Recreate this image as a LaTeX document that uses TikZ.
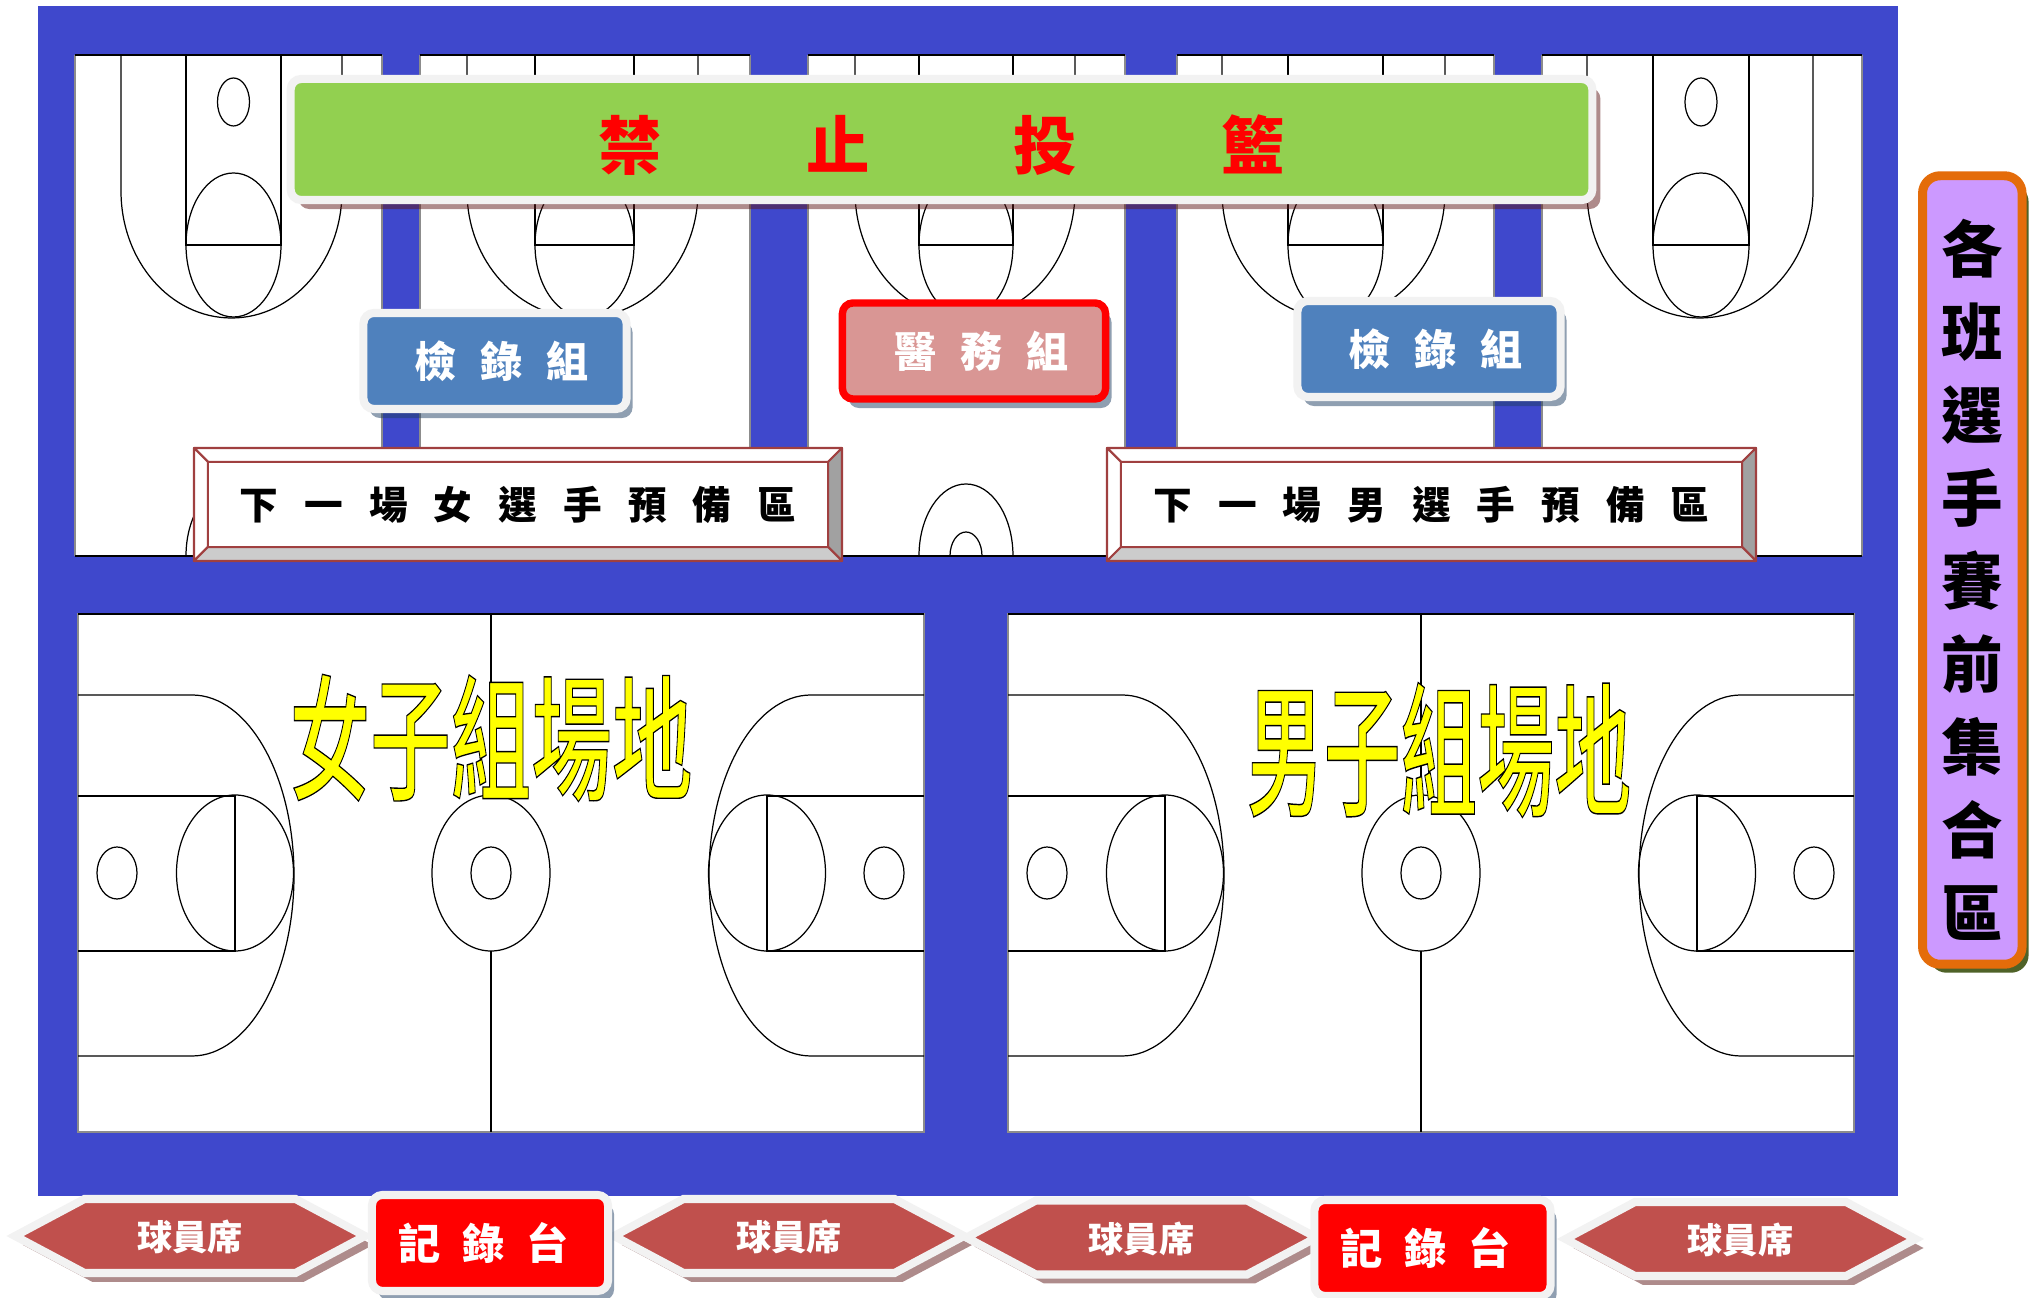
\documentclass[tikz,border=0pt]{standalone}
\usepackage{fontspec}
\usepackage{tikz}
\usetikzlibrary{shadows,positioning,calc}
\newfontfamily\cjk{Noto Sans CJK TC}
\newfontfamily\cjkoutline[FakeBold=1.0]{Noto Sans CJK TC Medium}
\newcommand{\setcjk}[2]{\cjk\bfseries\fontsize{#1}{#1}\selectfont\spaceskip=#2\relax}
\definecolor{courtblue}{HTML}{3F48CC}
\definecolor{bannergreen}{HTML}{92D050}
\definecolor{paleborder}{HTML}{F2F2F2}
\definecolor{teamblue}{HTML}{4F81BD}
\definecolor{medicpink}{HTML}{D99694}
\definecolor{benchred}{HTML}{C0504D}
\definecolor{bevelline}{HTML}{A04040}
\definecolor{lilacfill}{HTML}{CC99FF}
\definecolor{orangeline}{HTML}{E46C0A}
\definecolor{oliveshade}{HTML}{4F6228}
\tikzstyle{courtline}=[draw=black, line width=0.35pt]
\tikzstyle{courtedge}=[draw=black!45, line width=0.3pt]
\tikzstyle{redshadow}=[drop shadow={shadow xshift=0.08cm, shadow yshift=-0.09cm, fill={rgb,255:red,94;green,24;blue,24}, opacity=0.5}]
\tikzstyle{blueshadow}=[drop shadow={shadow xshift=0.06cm, shadow yshift=-0.09cm, fill={rgb,255:red,33;green,64;blue,100}, opacity=0.5}]
\tikzstyle{oliveshadow}=[drop shadow={shadow xshift=0.065cm, shadow yshift=-0.085cm, fill=oliveshade, opacity=1}]
\tikzstyle{tagbox}=[rectangle, rounded corners=3pt, line width=2.3pt, draw=paleborder,
                    inner sep=0pt, outer sep=0pt, text=white]
\tikzstyle{benchhex}=[draw=paleborder, fill=benchred, line width=2.3pt, miter limit=10, redshadow]
\tikzstyle{benchtext}=[inner sep=0pt, text=white, font=\setcjk{10}{0pt}]
\tikzstyle{deskbox}=[tagbox, fill=red, minimum width=2.36cm, minimum height=0.96cm,
                     blueshadow, font=\setcjk{12}{6.2pt}]
\tikzstyle{checkbox}=[tagbox, fill=teamblue, minimum width=2.63cm, minimum height=0.96cm,
                      blueshadow, font=\setcjk{12}{6.8pt}]
\tikzstyle{waittext}=[inner sep=0pt, font=\setcjk{11}{7.4pt}]
\tikzstyle{bevelside}=[draw=bevelline, line width=0.6pt, line join=round]

% half court seen from above, hoop towards the top of the page
\newcommand{\halfcourt}[6]{
    \fill[white] (#1,55) rectangle (#2,556);
    \draw[courtedge] (#1,55) -- (#1,556) (#2,55) -- (#2,556);
    \draw[courtline, line width=0.6pt] (#1,55) -- (#2,55) (#1,556) -- (#2,556);
    \draw[courtline] (#3,55) -- (#3,191) arc[start angle=180, end angle=0, x radius={(#6-#3)/2}, y radius=127] -- (#6,55);
    \draw[courtline] (#4,55) -- (#4,245) -- (#5,245) -- (#5,55);
    \draw[courtline] ({(#4+#5)/2},245) ellipse [x radius={(#5-#4)/2}, y radius=72];
    \draw[courtline] ({(#4+#5)/2},102) ellipse [x radius=16, y radius=24];
}
% whole court, #1 is the shift to the right
\newcommand{\fullcourt}[1]{
    \begin{scope}[xshift=#1*0.01cm]
    \fill[white] (78,614) rectangle (924,1132);
    \draw[courtedge] (78,614) rectangle (924,1132);
    \draw[courtline, line width=0.6pt] (78,614) -- (924,614);
    \draw[courtline] (491,614) -- (491,1132);
    \fill[white] (491,873) ellipse [x radius=59, y radius=78];
    \draw[courtline] (491,873) ellipse [x radius=59, y radius=78];
    \draw[courtline] (491,873) ellipse [x radius=20, y radius=26];
    % left end
    \draw[courtline] (78,695) -- (192,695) arc[start angle=90, end angle=-90, x radius=102, y radius=-180.5] -- (78,1056);
    \draw[courtline] (78,796) -- (235,796) -- (235,951) -- (78,951);
    \draw[courtline] (235,873) ellipse [x radius=58.5, y radius=78];
    \draw[courtline] (117,873) ellipse [x radius=20, y radius=26];
    % right end
    \draw[courtline] (924,695) -- (811,695) arc[start angle=90, end angle=270, x radius=102, y radius=-180.5] -- (924,1056);
    \draw[courtline] (924,796) -- (767,796) -- (767,951) -- (924,951);
    \draw[courtline] (767,873) ellipse [x radius=58.5, y radius=78];
    \draw[courtline] (884,873) ellipse [x radius=20, y radius=26];
    \end{scope}
}
% bevelled sign: outer corners #2,#3 to #4,#5, frame 14 wide
\newcommand{\bevelsign}[6]{
    \coordinate (#1a) at (#2,#3);
    \coordinate (#1b) at (#4,#3);
    \coordinate (#1c) at (#4,#5);
    \coordinate (#1d) at (#2,#5);
    \coordinate (#1e) at (#2+14,#3+14);
    \coordinate (#1f) at (#4-14,#3+14);
    \coordinate (#1g) at (#4-14,#5-14);
    \coordinate (#1h) at (#2+14,#5-14);
    \draw[bevelside, fill=white] (#1a) -- (#1b) -- (#1f) -- (#1e) -- cycle;
    \draw[bevelside, fill=white] (#1a) -- (#1e) -- (#1h) -- (#1d) -- cycle;
    \draw[bevelside, fill=black!37] (#1b) -- (#1c) -- (#1g) -- (#1f) -- cycle;
    \draw[bevelside, fill=black!20] (#1d) -- (#1h) -- (#1g) -- (#1c) -- cycle;
    \draw[bevelside, fill=white] (#1e) -- (#1f) -- (#1g) -- (#1h) -- cycle;
    \node[waittext] (#1) at ($(#1e)!0.5!(#1g)$) {#6};
}

\begin{document}
\begin{tikzpicture}[x=0.01cm, y=-0.01cm]
    \useasboundingbox (0,0) rectangle (2038,1298);
    \fill[courtblue] (38,6) rectangle (1898,1196);

    \foreach \xa/\xb/\la/\ka/\kb/\lb in {75/382/121/186/281/342, 420/750/467/535/634/698,
                808/1125/855/919/1013/1075, 1177/1494/1222/1288/1383/1445, 1542/1862/1587/1653/1749/1813}{
        \halfcourt{\xa}{\xb}{\la}{\ka}{\kb}{\lb}
    }
    % centre circle of the practice hall, cut by the floor edge
    \begin{scope}
        \clip (75,300) rectangle (1862,556);
        \foreach \cx in {233,966}{
            \draw[courtline] (\cx,556) ellipse [x radius=47, y radius=72];
            \draw[courtline] (\cx,556) ellipse [x radius=16, y radius=24];
        }
    \end{scope}

    \fullcourt{0}
    \fullcourt{930}

    \node[tagbox, fill=bannergreen, redshadow, minimum width=13.01cm, minimum height=1.21cm,
          text=red, text height=17pt, text depth=0pt, font=\setcjk{18}{41pt}] (banner) at (941.5,139.5) {禁 止 投 籃};
    \node[checkbox] (checkleft) at (495,361) {\hspace*{3.7pt}檢 錄 組};
    \node[checkbox] (checkright) at (1429,349) {\hspace*{3.7pt}檢 錄 組};
    \node[tagbox, fill=medicpink, draw=red, line width=2.1pt, blueshadow, minimum width=2.63cm,
          minimum height=0.96cm, font=\setcjk{12}{6.7pt}] (medic) at (974,351) {\hspace*{4.4pt}醫 務 組};

    \bevelsign{waitgirls}{194}{448}{842}{561}{下 一 場 女 選 手 預 備 區}
    \bevelsign{waitboys}{1107}{448}{1756}{561}{下 一 場 男 選 手 預 備 區}

    \node[inner sep=0pt, xscale=0.595, transform shape, font=\cjkoutline\fontsize{38.5}{38.5}\selectfont]
        (titlegirls) at (491,738) {\special{pdf:bcolor [1 1 0] [0 0 0]}女子組場地\special{pdf:ecolor}};
    \node[inner sep=0pt, xscale=0.533, transform shape, font=\cjkoutline\fontsize{41}{41}\selectfont]
        (titleboys) at (1439,750) {\special{pdf:bcolor [1 1 0] [0 0 0]}男子組場地\special{pdf:ecolor}};

    \node[tagbox, fill=lilacfill, draw=orangeline, line width=2.55pt, rounded corners=5pt, oliveshadow,
          minimum width=0.995cm, minimum height=7.88cm, text=black, align=center,
          font=\cjk\bfseries\fontsize{17.5}{23.6}\selectfont] (classes) at (1972.3,570)
          {\rule{0pt}{20.5pt}各\\班\\選\\手\\賽\\前\\集\\合\\區};

    \foreach \n/\cx/\cy in {a/190/1236, b/789/1236, c/1141.5/1237.5, d/1740.5/1239}{
        \draw[benchhex] (\cx-175,\cy) -- (\cx-105.5,\cy-37) -- (\cx+105.5,\cy-37)
            -- (\cx+175,\cy) -- (\cx+105.5,\cy+37) -- (\cx-105.5,\cy+37) -- cycle;
        \node[benchtext] (bench\n) at (\cx,\cy+1) {球員席};
    }
    \node[deskbox] (deskleft) at (490,1243) {記 錄 台\hspace*{3.7pt}};
    \node[deskbox] (deskright) at (1432.5,1248) {記 錄 台\hspace*{3.7pt}};
\end{tikzpicture}
\end{document}
